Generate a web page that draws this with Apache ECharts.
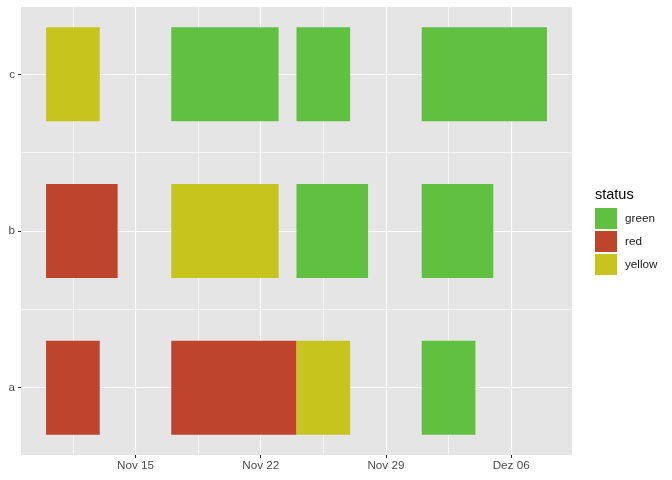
<!DOCTYPE html>
<html>
<head>
<meta charset="utf-8">
<script src="https://cdn.jsdelivr.net/npm/echarts@6/dist/echarts.min.js"></script>
<style>
html,body{margin:0;padding:0;background:#fff}
#chart{width:672px;height:480px}
</style>
</head>
<body>
<div id="chart"></div>
<script>
// rows of the timeline, bottom to top
var rows = ['a', 'b', 'c'];
var statuses = ['green', 'red', 'yellow'];
var statusColors = ['#5FC13F', '#BE452C', '#C8C41E'];

// one entry per block
var taskRow    = ['a', 'a', 'a', 'a', 'b', 'b', 'b', 'b', 'c', 'c', 'c', 'c'];
var taskStart  = ['2021-11-10', '2021-11-17', '2021-11-24', '2021-12-01',
                  '2021-11-10', '2021-11-17', '2021-11-24', '2021-12-01',
                  '2021-11-10', '2021-11-17', '2021-11-24', '2021-12-01'];
var taskEnd    = ['2021-11-13', '2021-11-24', '2021-11-27', '2021-12-04',
                  '2021-11-14', '2021-11-23', '2021-11-28', '2021-12-05',
                  '2021-11-13', '2021-11-23', '2021-11-27', '2021-12-08'];
var taskStatus = ['red', 'red', 'yellow', 'green',
                  'red', 'yellow', 'green', 'green',
                  'yellow', 'green', 'green', 'green'];

// x tick labels
var tickDates  = ['2021-11-15', '2021-11-22', '2021-11-29', '2021-12-06'];
var tickLabels = ['Nov 15', 'Nov 22', 'Nov 29', 'Dez 06'];

var DAY = 86400000;
function ms(s) {
    var p = s.split('-');
    return Date.UTC(+p[0], +p[1] - 1, +p[2]);
}

var tickMs = tickDates.map(ms);
var minorMs = tickMs.map(function (t) { return t - 3.5 * DAY; });

// ggplot style 5% expansion
var allStart = taskStart.map(ms), allEnd = taskEnd.map(ms);
var xLo = Math.min.apply(null, allStart), xHi = Math.max.apply(null, allEnd);
var xPad = (xHi - xLo) * 0.05;
var halfH = 0.3;
var yLo = 1 - halfH, yHi = rows.length + halfH;
var yPad = (yHi - yLo) * 0.05;

var series = statuses.map(function (st, k) {
    var data = [];
    for (var i = 0; i < taskRow.length; i++) {
        if (taskStatus[i] === st) {
            data.push([ms(taskStart[i]), ms(taskEnd[i]), rows.indexOf(taskRow[i]) + 1]);
        }
    }
    return {
        name: st,
        type: 'custom',
        xAxisIndex: 0,
        yAxisIndex: 0,
        itemStyle: {color: statusColors[k]},
        encode: {x: [0, 1], y: 2},
        renderItem: function (params, api) {
            var p0 = api.coord([api.value(0), api.value(2) + halfH]);
            var p1 = api.coord([api.value(1), api.value(2) - halfH]);
            return {
                type: 'rect',
                shape: {x: p0[0], y: p0[1], width: p1[0] - p0[0], height: p1[1] - p0[1]},
                style: {fill: api.visual('color')}
            };
        },
        data: data
    };
});

var myChart = echarts.init(document.getElementById('chart'));
var option = {
    animation: false,
    title: {
        text: 'status',
        left: 595,
        top: 187,
        padding: 0,
        textStyle: {fontSize: 14.5, fontWeight: 'normal', color: '#000', fontFamily: 'Liberation Sans'}
    },
    legend: {
        data: statuses,
        orient: 'vertical',
        left: 595,
        top: 208,
        padding: 0,
        itemWidth: 22,
        itemHeight: 21,
        itemGap: 2,
        icon: 'rect',
        textStyle: {fontSize: 11.7, color: '#1a1a1a', fontFamily: 'Liberation Sans', padding: [0, 0, 0, 3]}
    },
    grid: {
        left: 21, right: 100, top: 7, bottom: 25,
        show: true, backgroundColor: '#E5E5E5', borderWidth: 0
    },
    xAxis: [{
        type: 'value',
        min: xLo - xPad,
        max: xHi + xPad,
        axisLine: {show: false},
        axisTick: {show: true, length: 3, lineStyle: {color: '#333', width: 1}, customValues: tickMs},
        axisLabel: {
            customValues: tickMs,
            fontSize: 11.7, color: '#4d4d4d', margin: 5, fontFamily: 'Liberation Sans',
            formatter: function (v) {
                var i = tickMs.indexOf(v);
                return i >= 0 ? tickLabels[i] : '';
            }
        },
        splitLine: {show: true, lineStyle: {color: '#fff', width: 1.2}},
        z: 2
    }, {
        type: 'value',
        position: 'bottom',
        min: xLo - xPad,
        max: xHi + xPad,
        axisLine: {show: false},
        axisTick: {show: false, customValues: minorMs},
        axisLabel: {show: false, customValues: minorMs},
        splitLine: {show: true, lineStyle: {color: '#fff', width: 0.6}},
        z: 1
    }],
    yAxis: [{
        type: 'value',
        min: yLo - yPad,
        max: yHi + yPad,
        axisLine: {show: false},
        axisTick: {show: true, length: 3, lineStyle: {color: '#333', width: 1}, customValues: [1, 2, 3]},
        axisLabel: {
            customValues: [1, 2, 3],
            fontSize: 11.7, color: '#4d4d4d', margin: 6, fontFamily: 'Liberation Sans',
            formatter: function (v) { return rows[Math.round(v) - 1]; }
        },
        splitLine: {show: true, lineStyle: {color: '#fff', width: 1.2}},
        z: 2
    }, {
        type: 'value',
        position: 'left',
        min: yLo - yPad,
        max: yHi + yPad,
        axisLine: {show: false},
        axisTick: {show: false, customValues: [1.5, 2.5]},
        axisLabel: {show: false, customValues: [1.5, 2.5]},
        splitLine: {show: true, lineStyle: {color: '#fff', width: 0.6}},
        z: 1
    }],
    series: series
};
myChart.setOption(option);
</script>
</body>
</html>
